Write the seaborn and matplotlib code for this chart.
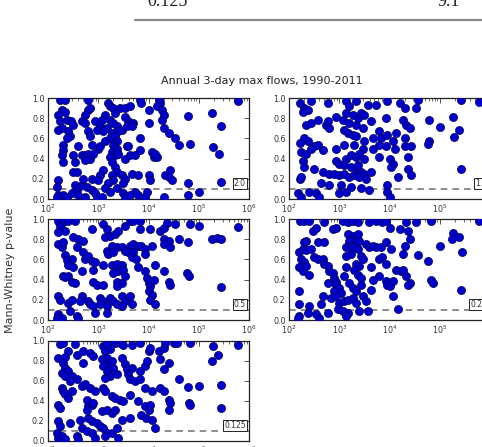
import numpy as np
import pandas as pd
import matplotlib
matplotlib.use("Agg")
import matplotlib.pyplot as plt
import seaborn as sns
from matplotlib.lines import Line2D
from matplotlib.ticker import LogLocator, NullFormatter

# ---------------- data (log10 of flow, Mann-Whitney p-value) ----------------
panel_labels = ["2.0", "1.0", "0.5", "0.25", "0.125"]

p1_pts = [
    (2.24, .98), (2.33, .98), (2.27, .88), (2.34, .86), (2.2, .83), (2.24, .77), (2.37, .78), (2.46, .77),
    (2.5, .73), (2.2, .68), (2.27, .70), (2.4, .67), (2.44, .62), (2.37, .6), (2.3, .53), (2.3, .49),
    (2.27, .44), (2.3, .37), (2.5, .44), (2.54, .37), (2.5, .27), (2.57, .27), (2.2, .19), (2.17, .12),
    (2.54, .14), (2.6, .11), (2.2, .04), (2.3, .04), (2.37, .02), (2.17, .02), (2.47, .06), (2.6, .52),
    (2.67, .44), (2.74, .44), (2.8, .45), (2.8, .67), (2.83, .62), (2.8, .88), (2.84, .9), (2.8, .98),
    (2.67, .77), (2.73, .75), (2.87, .53), (2.83, .40), (2.74, .39), (2.67, .14), (2.77, .12), (2.87, .09),
    (2.93, .06), (2.74, .02), (2.97, .02), (3.07, .02), (3.03, .24), (3.1, .29), (3.0, .5), (3.03, .52),
    (3.13, .57), (3.17, .7), (3.13, .83), (3.2, .95), (3.23, .92), (3.3, .9), (3.43, .9), (3.33, .85),
    (3.23, .78), (3.3, .75), (3.37, .72), (3.47, .68), (3.4, .67), (3.27, .65), (3.23, .6), (3.33, .62),
    (3.37, .57), (3.3, .53), (3.37, .5), (3.27, .47), (3.33, .44), (3.4, .45), (3.23, .42), (3.27, .37),
    (3.33, .32), (3.37, .27), (3.27, .24), (3.3, .19), (3.2, .16), (3.13, .11), (3.23, .07), (3.37, .11),
    (3.5, .06), (3.53, .02), (3.47, .24), (3.53, .2), (3.5, .16), (3.57, .52), (3.6, .52), (3.53, .4),
    (3.63, .44), (3.73, .44), (3.7, .75), (3.6, .77), (3.53, .81), (3.57, .72), (3.67, .72), (3.53, .9),
    (3.63, .92), (3.83, .98), (3.86, .95), (4.0, .88), (4.0, .75), (3.83, .6), (3.83, .49), (3.67, .25),
    (3.8, .24), (3.73, .07), (3.97, .07), (3.93, .02), (4.0, .24), (4.03, .19), (4.07, .47), (4.1, .42),
    (4.16, .42), (4.13, .45), (4.2, .98), (4.23, .95), (4.16, .92), (4.26, .88), (4.3, .83), (4.26, .78),
    (4.3, .7), (4.4, .65), (4.53, .6), (4.6, .53), (4.33, .24), (4.43, .29), (4.4, .22), (4.47, .19),
    (4.3, .02), (4.79, .82), (4.83, .54), (4.78, .16), (4.79, .04), (5.0, .07), (5.26, .85), (5.29, .51),
    (5.4, .45), (5.44, .72), (5.44, .17), (5.79, .97), (2.93, .77), (3.03, .72), (3.1, .67), (2.97, .68),
    (2.74, .83), (3.07, .78), (2.9, .45), (2.7, .2), (2.87, .2), (2.99, .19), (2.6, .04), (3.63, .04),
    (3.8, .04),
]

p2_pts = [
    (2.21, .95), (2.3, .9), (2.37, .88), (2.27, .86), (2.44, .97), (2.77, .95), (3.13, .97), (3.2, .92),
    (3.33, .97), (3.57, .93), (3.73, .93), (3.96, .97), (4.2, .95), (4.3, .9), (4.53, .9), (4.56, .98),
    (5.42, .98), (5.79, .96), (2.34, .73), (2.44, .75), (2.57, .78), (2.74, .73), (2.8, .7), (2.77, .77),
    (2.94, .81), (3.07, .78), (3.13, .85), (3.2, .75), (3.27, .83), (3.33, .73), (3.37, .8), (3.43, .85),
    (3.5, .83), (3.47, .7), (3.63, .77), (3.1, .68), (3.17, .65), (3.27, .63), (3.33, .62), (3.93, .8),
    (4.26, .78), (4.33, .73), (4.4, .7), (4.13, .65), (3.8, .67), (3.67, .6), (3.5, .57), (3.83, .6),
    (3.96, .63), (4.06, .57), (4.3, .6), (4.3, .52), (4.43, .52), (4.1, .5), (3.93, .52), (3.8, .53),
    (3.67, .5), (3.47, .5), (3.3, .53), (3.1, .53), (2.94, .5), (2.67, .49), (2.5, .52), (2.37, .57),
    (2.3, .6), (2.21, .55), (2.24, .47), (2.34, .45), (2.44, .5), (2.57, .53), (2.27, .38), (2.3, .32),
    (2.5, .3), (2.67, .27), (2.8, .25), (2.9, .25), (3.0, .24), (3.1, .25), (3.2, .22), (3.3, .24),
    (3.37, .29), (3.43, .27), (3.5, .25), (3.63, .27), (3.4, .22), (3.53, .2), (2.94, .38), (3.0, .35),
    (3.13, .4), (3.23, .44), (3.33, .42), (3.4, .45), (3.5, .4), (3.1, .34), (3.23, .32), (3.37, .34),
    (4.0, .4), (4.06, .35), (4.03, .32), (4.36, .42), (4.36, .3), (4.43, .24), (4.16, .22), (3.8, .42),
    (2.21, .2), (2.24, .22), (2.64, .16), (2.8, .14), (3.03, .14), (3.23, .12), (3.43, .11), (3.96, .14),
    (3.6, .09), (2.4, .07), (2.54, .06), (2.17, .06), (2.24, .02), (2.6, .02), (3.0, .06), (3.13, .07),
    (3.96, .07), (4.0, .02), (4.79, .78), (5.0, .71), (5.26, .81), (5.39, .68), (5.29, .61), (4.79, .57),
    (4.77, .54), (5.42, .3),
]

p3_pts = [
    (2.2, .98), (2.3, .97), (2.4, .98), (2.54, .98), (2.24, .93), (2.34, .88), (2.2, .87), (2.2, .75),
    (2.27, .72), (2.3, .77), (2.5, .82), (2.6, .8), (2.7, .78), (2.57, .72), (2.87, .9), (3.1, .95),
    (3.17, .9), (3.13, .82), (3.23, .83), (3.33, .85), (3.4, .88), (3.53, .93), (3.63, .98), (3.7, .98),
    (3.83, .98), (3.83, .9), (4.03, .9), (4.23, .88), (4.3, .91), (4.36, .96), (4.53, .95), (4.83, .95),
    (5.0, .93), (5.79, .92), (4.3, .8), (4.4, .78), (4.6, .8), (4.78, .77), (5.26, .8), (5.36, .81),
    (5.44, .8), (4.3, .75), (4.43, .72), (3.27, .73), (3.37, .72), (3.47, .72), (3.63, .73), (3.7, .75),
    (3.8, .73), (3.86, .73), (3.93, .7), (4.06, .73), (3.17, .68), (3.2, .65), (3.3, .67), (3.53, .68),
    (3.6, .67), (3.7, .67), (3.67, .62), (3.76, .6), (3.93, .65), (2.7, .67), (2.74, .6), (2.8, .63),
    (2.87, .58), (2.94, .57), (2.34, .64), (2.37, .59), (2.47, .6), (2.4, .54), (2.5, .52), (2.67, .49),
    (2.9, .5), (3.1, .54), (3.27, .54), (3.37, .55), (3.47, .54), (3.4, .49), (3.5, .5), (3.3, .47),
    (3.8, .52), (3.93, .49), (4.13, .54), (4.3, .49), (4.76, .47), (4.81, .44), (2.3, .44), (2.4, .44),
    (2.34, .43), (2.47, .38), (2.54, .37), (2.9, .38), (2.97, .35), (3.1, .35), (3.37, .38), (3.47, .37),
    (3.53, .44), (3.37, .34), (3.97, .42), (4.0, .37), (4.03, .34), (4.1, .4), (4.4, .38), (4.43, .35),
    (4.0, .29), (4.06, .25), (4.03, .2), (4.13, .16), (5.44, .33), (2.2, .24), (2.24, .2), (2.4, .17),
    (2.47, .2), (2.67, .24), (2.64, .19), (2.8, .19), (2.83, .16), (2.9, .14), (3.03, .22), (3.1, .19),
    (3.03, .16), (3.17, .14), (3.23, .22), (3.3, .19), (3.37, .16), (3.47, .24), (3.53, .19), (3.63, .24),
    (3.67, .16), (3.47, .14), (2.94, .07), (3.17, .07), (2.2, .06), (2.17, .02), (2.27, .02), (2.57, .04),
    (2.6, .02), (2.44, .09),
]

p4_pts = [
    (2.21, .98), (2.3, .98), (2.4, .98), (2.47, .88), (2.54, .91), (2.7, .97), (2.87, .9), (2.94, .91),
    (3.07, .98), (3.17, .97), (3.27, .98), (3.37, .97), (3.6, .97), (3.73, .98), (3.86, .97), (3.93, .98),
    (4.0, .91), (4.2, .9), (4.33, .97), (4.36, .88), (4.53, .97), (4.83, .98), (5.26, .86), (5.39, .82),
    (5.24, .8), (5.44, .67), (5.79, .98), (2.34, .78), (2.3, .77), (2.57, .77), (2.7, .77), (3.17, .85),
    (3.27, .83), (3.33, .8), (3.37, .85), (3.4, .78), (3.2, .78), (3.23, .73), (3.3, .72), (3.37, .7),
    (3.13, .72), (3.53, .75), (3.6, .72), (3.67, .73), (3.73, .72), (3.83, .72), (3.93, .77), (4.03, .7),
    (4.3, .73), (4.4, .8), (4.26, .65), (4.56, .64), (4.76, .58), (5.0, .73), (2.2, .67), (2.27, .7),
    (2.34, .69), (2.44, .7), (2.5, .62), (2.57, .6), (2.24, .6), (2.3, .57), (2.2, .52), (2.27, .49),
    (2.34, .53), (2.4, .45), (2.67, .6), (2.7, .55), (2.77, .53), (2.8, .49), (2.87, .47), (3.13, .63),
    (3.23, .65), (3.43, .63), (3.47, .6), (3.33, .55), (3.4, .53), (3.13, .52), (3.3, .5), (3.37, .45),
    (3.43, .42), (3.63, .52), (3.8, .6), (3.86, .62), (3.93, .55), (4.13, .5), (4.23, .49), (4.26, .5),
    (4.33, .44), (4.4, .37), (4.36, .35), (4.83, .4), (4.86, .37), (3.8, .44), (3.93, .39), (3.96, .35),
    (4.0, .34), (4.06, .39), (3.67, .4), (2.9, .42), (2.94, .38), (2.94, .35), (3.0, .32), (3.03, .27),
    (2.9, .29), (2.77, .37), (3.1, .44), (3.2, .37), (3.27, .32), (3.33, .29), (3.43, .35), (3.63, .3),
    (4.06, .24), (5.42, .3), (2.2, .29), (2.2, .16), (2.4, .14), (2.64, .16), (2.67, .24), (2.83, .22),
    (2.94, .24), (3.0, .17), (3.1, .19), (3.17, .2), (3.27, .22), (3.33, .17), (3.47, .24), (3.53, .19),
    (2.97, .11), (3.07, .09), (3.17, .07), (3.13, .04), (3.4, .09), (3.57, .09), (4.16, .11), (2.2, .04),
    (2.17, .02), (2.54, .06), (2.6, .02), (2.37, .07), (2.77, .07),
]

p5_pts = [
    (2.24, .97), (2.3, .98), (2.54, .97), (2.4, .9), (2.2, .83), (2.34, .84), (2.57, .86), (2.7, .9),
    (2.83, .88), (2.9, .85), (3.1, .95), (3.17, .97), (3.23, .92), (3.13, .9), (3.33, .98), (3.43, .98),
    (3.5, .96), (3.67, .96), (3.83, .98), (4.0, .9), (4.03, .93), (4.2, .9), (4.3, .93), (4.33, .98),
    (4.5, .98), (4.56, .98), (4.83, .98), (5.29, .95), (5.39, .86), (5.26, .8), (5.79, .96), (2.3, .78),
    (2.34, .73), (2.4, .7), (2.27, .68), (2.34, .65), (2.47, .65), (2.57, .62), (2.44, .6), (2.7, .78),
    (3.07, .82), (3.17, .83), (3.2, .78), (3.27, .8), (3.1, .75), (3.3, .73), (3.17, .7), (3.23, .65),
    (3.13, .63), (3.47, .83), (3.53, .77), (3.57, .72), (3.67, .73), (3.6, .67), (3.63, .62), (3.73, .6),
    (3.37, .67), (3.83, .7), (3.93, .75), (3.97, .8), (4.23, .82), (4.3, .72), (4.4, .78), (3.83, .62),
    (4.6, .62), (4.79, .54), (5.0, .55), (5.44, .56), (5.44, .33), (4.81, .38), (4.83, .36), (2.27, .53),
    (2.3, .5), (2.34, .47), (2.4, .43), (2.47, .5), (2.67, .55), (2.74, .57), (2.83, .53), (2.94, .5),
    (3.1, .53), (3.13, .5), (3.27, .45), (3.33, .43), (3.43, .41), (3.5, .4), (3.63, .46), (3.8, .4),
    (3.93, .53), (4.06, .5), (4.23, .53), (4.3, .5), (4.4, .41), (4.43, .38), (3.93, .35), (4.0, .31),
    (4.03, .36), (2.2, .36), (2.24, .33), (2.77, .41), (2.8, .35), (2.87, .36), (2.9, .38), (2.77, .31),
    (3.07, .3), (3.17, .31), (3.27, .28), (3.33, .31), (3.47, .21), (3.63, .23), (3.86, .26), (3.96, .23),
    (4.06, .21), (4.4, .31), (2.2, .2), (2.24, .15), (2.44, .18), (2.64, .21), (2.8, .23), (2.87, .2),
    (2.97, .18), (3.03, .15), (3.1, .13), (2.67, .13), (2.77, .1), (2.87, .08), (3.17, .08), (3.27, .08),
    (3.37, .13), (4.13, .13), (2.17, .08), (2.2, .03), (2.27, .05), (2.34, .02), (2.57, .05), (2.6, .02),
    (2.94, .03), (3.13, .05), (3.4, .03),
]

panels = [p1_pts, p2_pts, p3_pts, p4_pts, p5_pts]
x_ticks = [1e2, 1e3, 1e4, 1e5, 1e6]
x_tick_labels = ["$10^{2}$", "$10^{3}$", "$10^{4}$", "$10^{5}$", "$10^{6}$"]
y_ticks = [0.0, 0.2, 0.4, 0.6, 0.8, 1.0]
y_tick_labels = ["0.0", "0.2", "0.4", "0.6", "0.8", "1.0"]
threshold = 0.1

title = "Annual 3-day max flows, 1990-2011"
ylabel = "Mann-Whitney p-value"
table_left, table_right = "0.125", "9.1"

# ---------------- figure ----------------
sns.set_style("white")
plt.rcParams["font.family"] = ["DejaVu Sans"]

W, H = 482, 447
fig = plt.figure(figsize=(W / 100, H / 100), dpi=100)

col_x = [48, 289]
ax_w = 201
rows = [(98, 199), (219, 320), (341, 441)]
grid = [(0, 0), (0, 1), (1, 0), (1, 1), (2, 0)]

for pts, lab, (r, c) in zip(panels, panel_labels, grid):
    top, bot = rows[r]
    ax = fig.add_axes([col_x[c] / W, 1 - bot / H, ax_w / W, (bot - top) / H])
    df = pd.DataFrame({"flow": [10 ** a for a, _ in pts], "p": [b for _, b in pts]})
    sns.scatterplot(data=df, x="flow", y="p", ax=ax, color="#0000cc",
                    edgecolor="#00005a", linewidth=0.5, s=34, zorder=3, legend=False)
    ax.set_xscale("log")
    ax.set_xlim(1e2, 1e6)
    ax.set_ylim(0, 1)
    ax.axhline(threshold, color="#7a7a7a", ls=(0, (4, 3)), lw=1.2, zorder=2)
    ax.set_xlabel("")
    ax.set_ylabel("")
    ax.set_xticks(x_ticks)
    ax.set_xticklabels(x_tick_labels)
    ax.xaxis.set_minor_locator(LogLocator(base=10, subs=np.arange(2, 10)))
    ax.xaxis.set_minor_formatter(NullFormatter())
    ax.set_yticks(y_ticks)
    ax.set_yticklabels(y_tick_labels)
    ax.tick_params(which="both", direction="in", top=True, right=True,
                   labelsize=5.8, labelcolor="#333333", color="#333333", pad=2.5)
    ax.tick_params(which="major", length=3.5, width=0.6)
    ax.tick_params(which="minor", length=1.8, width=0.5)
    for s in ax.spines.values():
        s.set_color("#222222")
        s.set_linewidth(0.9)
    ax.text(0.985, 0.155, lab, transform=ax.transAxes, ha="right", va="center",
            fontsize=5.5, color="#333333", zorder=5,
            bbox=dict(boxstyle="square,pad=0.15", fc="white", ec="#222222", lw=0.7))

fig.text(261.5 / W, 1 - 81 / H, title, ha="center", va="center", fontsize=8, color="#222222")
fig.text(10 / W, 1 - 270 / H, ylabel, ha="center", va="center", rotation=90,
         fontsize=8, color="#333333")

# remnant of document table above the figure
fig.text(147 / W, 1 - 6 / H, table_left, ha="left", va="baseline",
         family="Liberation Serif", fontsize=13, color="#222222")
fig.text(460 / W, 1 - 6 / H, table_right, ha="right", va="baseline",
         family="Liberation Serif", fontsize=13, color="#222222")
fig.add_artist(Line2D([135 / W, 1.0], [1 - 20 / H, 1 - 20 / H], color="#8a8a8a", lw=1.6))

fig.savefig("out.png", dpi=100)
